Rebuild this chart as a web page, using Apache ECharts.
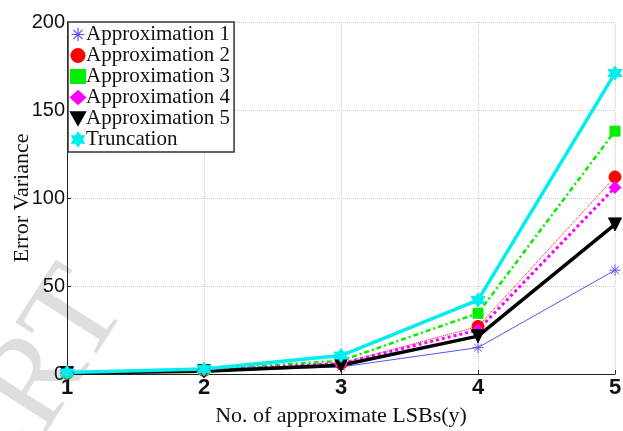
<!DOCTYPE html>
<html>
<head>
<meta charset="utf-8">
<script src="https://cdn.jsdelivr.net/npm/echarts@6/dist/echarts.min.js"></script>
<style>
  html, body { margin: 0; padding: 0; background: #fff; }
  #chart { width: 623px; height: 431px; }
</style>
</head>
<body>
<div id="chart"></div>
<script>
// data
const xLabels = ['1', '2', '3', '4', '5'];
const approx1 = [0.5, 1.5, 4, 15, 59];
const approx2 = [0.6, 2, 6, 27, 112];
const approx3 = [0.7, 2.5, 7.5, 34.5, 138];
const approx4 = [0.6, 2, 6, 25, 106];
const approx5 = [0.5, 1.5, 5, 21.5, 85];
const truncation = [0.8, 2.8, 10.5, 42, 171];

const asterisk = 'path://M0,-10L0,10M-10,0L10,0M-7,-7L7,7M-7,7L7,-7';
const hexStar = 'path://M0,-10L2.9,-5L8.7,-5L5.8,0L8.7,5L2.9,5L0,10L-2.9,5L-8.7,5L-5.8,0L-8.7,-5L-2.9,-5Z';
const triDown = 'path://M-10,-8L10,-8L0,10Z';

const chart = echarts.init(document.getElementById('chart'));

function mk(name, data, color, symbol, size, width, type) {
  return {
    name: name,
    type: 'line',
    data: data,
    symbol: symbol,
    symbolSize: size,
    showSymbol: true,
    itemStyle: { color: color, borderColor: color, borderWidth: 1 },
    lineStyle: { color: color, width: width, type: type },
    z: 3
  };
}

const option = {
  animation: false,
  grid: { left: 67, right: 8, top: 22, bottom: 57, outerBoundsMode: 'none' },
  legend: {
    orient: 'vertical',
    left: 68,
    top: 22,
    padding: [2, 4, 2, 2],
    itemGap: 0,
    itemWidth: 14,
    itemHeight: 13,
    backgroundColor: '#fff',
    borderColor: '#333',
    borderWidth: 1.5,
    textStyle: { fontFamily: 'Liberation Serif', fontSize: 21, lineHeight: 21, color: '#111', padding: [0, 0, 0, -4] },
    data: [
      { name: 'Approximation 1', icon: asterisk, itemStyle: { color: '#5555ee', borderColor: '#5555ee', borderWidth: 1.2 } },
      { name: 'Approximation 2', icon: 'circle' },
      { name: 'Approximation 3', icon: 'rect' },
      { name: 'Approximation 4', icon: 'diamond' },
      { name: 'Approximation 5', icon: triDown },
      { name: 'Truncation', icon: hexStar }
    ]
  },
  xAxis: {
    type: 'category',
    data: xLabels,
    boundaryGap: false,
    axisLine: { lineStyle: { color: '#222', width: 1 } },
    axisTick: { show: true, inside: true, length: 4, lineStyle: { color: '#222' } },
    axisLabel: { fontFamily: 'Liberation Sans', fontWeight: 'bold', fontSize: 22, color: '#111', margin: 3 },
    splitLine: { show: true, lineStyle: { color: '#ccc', type: 'dotted' } },
    name: 'No. of approximate LSBs(y)',
    nameLocation: 'middle',
    nameGap: 31,
    nameMoveOverlap: false,
    nameTextStyle: { fontFamily: 'Liberation Serif', fontSize: 22, color: '#111' }
  },
  yAxis: {
    type: 'value',
    min: 0,
    max: 200,
    interval: 50,
    axisLine: { show: true, lineStyle: { color: '#222', width: 1 } },
    axisTick: { show: true, inside: true, length: 4, lineStyle: { color: '#222' } },
    axisLabel: { fontFamily: 'Liberation Sans', fontSize: 20, color: '#111', margin: 2 },
    splitLine: { show: true, lineStyle: { color: '#ccc', type: 'dotted' } },
    name: 'Error Variance',
    nameLocation: 'middle',
    nameGap: 34,
    nameMoveOverlap: false,
    nameTextStyle: { fontFamily: 'Liberation Serif', fontSize: 22, color: '#111' }
  },
  series: [
    mk('Approximation 1', approx1, '#5555ee', asterisk, 11, 1, 'solid'),
    mk('Approximation 2', approx2, '#ff0000', 'circle', 12, 1, 'dotted'),
    mk('Approximation 3', approx3, '#00ee00', 'rect', 10, 2.5, [5, 3, 2, 3]),
    mk('Approximation 4', approx4, '#ff00ff', 'diamond', 12, 3, [3, 3]),
    mk('Approximation 5', approx5, '#000000', triDown, 13, 3.5, 'solid'),
    mk('Truncation', truncation, '#00eeee', hexStar, 14, 3.5, 'solid')
  ],
  graphic: [
    {
      type: 'text',
      left: -130,
      top: 250,
      rotation: 1.0,
      silent: true,
      z: -1,
      style: {
        text: 'CERT',
        font: '130px Liberation Serif',
        fill: 'rgba(0,0,0,0.13)'
      }
    }
  ]
};

chart.setOption(option);
</script>
</body>
</html>
